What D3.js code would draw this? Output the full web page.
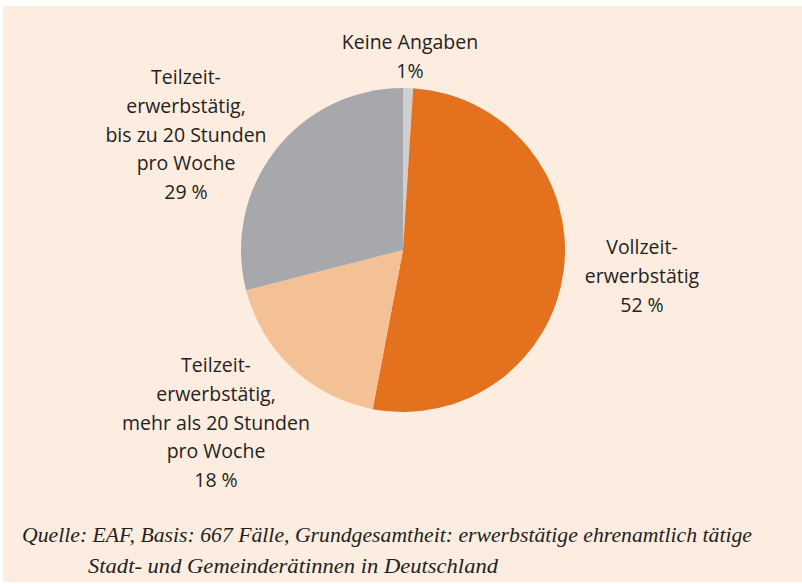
<!DOCTYPE html>
<html>
<head>
<meta charset="utf-8">
<script src="https://cdn.jsdelivr.net/npm/d3@7.9.0/dist/d3.min.js"></script>
<style>
  html, body { margin: 0; padding: 0; background: #fff; }
  svg { display: block; }
</style>
</head>
<body>
<div id="chart"></div>
<script>
// Slices, clockwise from 12 o'clock
const categories = ['Keine Angaben', 'Vollzeit', 'Teilzeit >20', 'Teilzeit <=20'];
const values = [1, 52, 18, 29];
const colors = ['#cdcfd1', '#e3711e', '#f4c197', '#a7a8ab'];

const labelLines = [
  ['Keine Angaben', '1%'],
  ['Vollzeit-', 'erwerbstätig', '52\u00A0%'],
  ['Teilzeit-', 'erwerbstätig,', 'mehr als 20 Stunden', 'pro Woche', '18\u00A0%'],
  ['Teilzeit-', 'erwerbstätig,', 'bis zu 20 Stunden', 'pro Woche', '29\u00A0%']
];
const labelPos = [[410, 49], [642, 254], [216, 372], [186, 84]];

const sourceLines = [
  'Quelle: EAF, Basis: 667 Fälle, Grundgesamtheit: erwerbstätige ehrenamtlich tätige',
  'Stadt- und Gemeinderätinnen in Deutschland'
];

const width = 802, height = 584;
const cx = 403, cy = 250, radius = 162;

const svg = d3.select('#chart').append('svg')
  .attr('width', width)
  .attr('height', height);

// panel background
svg.append('rect')
  .attr('x', 3).attr('y', 6)
  .attr('width', width - 3).attr('height', 576)
  .attr('fill', '#fdede0');

const pie = d3.pie().sort(null).value(d => d);
const arc = d3.arc().innerRadius(0).outerRadius(radius);

svg.append('g')
  .attr('transform', `translate(${cx},${cy})`)
  .selectAll('path')
  .data(pie(values))
  .join('path')
  .attr('d', arc)
  .attr('fill', (d, i) => colors[i]);

// labels
const labels = svg.append('g')
  .attr('font-family', '"Open Sans", "Noto Sans", sans-serif')
  .attr('font-size', 19.5)
  .attr('fill', '#231f20')
  .attr('text-anchor', 'middle');

labelLines.forEach((lines, i) => {
  const t = labels.append('text')
    .attr('x', labelPos[i][0])
    .attr('y', labelPos[i][1]);
  lines.forEach((line, j) => {
    t.append('tspan')
      .attr('x', labelPos[i][0])
      .attr('dy', j === 0 ? 0 : 28.8)
      .text(line);
  });
});

// source note
const src = svg.append('g')
  .attr('font-family', '"Liberation Serif", "DejaVu Serif", serif')
  .attr('font-style', 'italic')
  .attr('font-size', 21)
  .attr('fill', '#231f20');

src.append('text').attr('x', 22).attr('y', 542)
  .attr('textLength', 730).attr('lengthAdjust', 'spacingAndGlyphs')
  .text(sourceLines[0]);
src.append('text').attr('x', 88).attr('y', 573)
  .attr('textLength', 410).attr('lengthAdjust', 'spacingAndGlyphs')
  .text(sourceLines[1]);
</script>
</body>
</html>
